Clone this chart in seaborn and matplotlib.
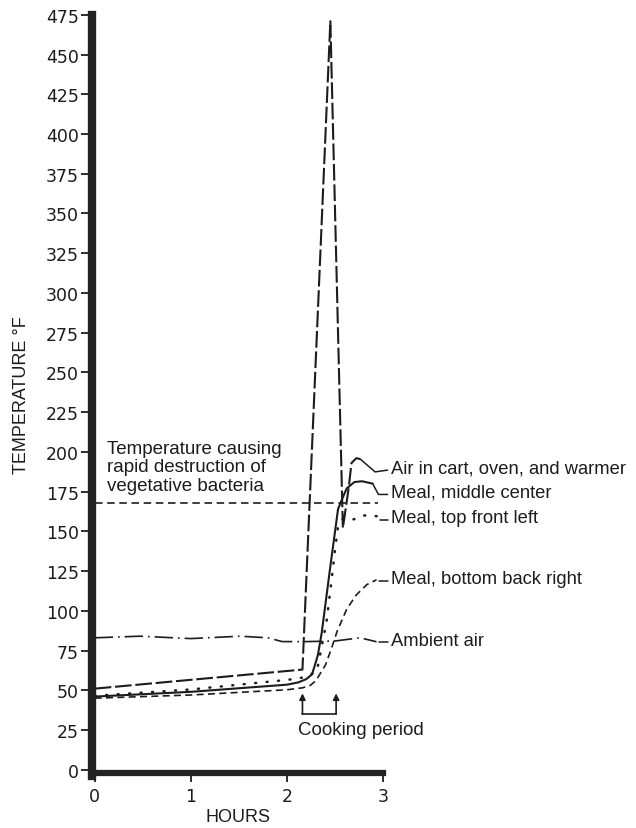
import matplotlib
matplotlib.use("Agg")
import matplotlib.pyplot as plt
import pandas as pd
import seaborn as sns

# Temperature records (hours after loading, degrees F)
air_hours = [0.0, 2.16, 2.45, 2.58, 2.64, 2.67, 2.72, 2.76]
air_temp = [51, 63, 471, 152, 177, 193, 196, 195.5]

middle_hours = [0.0, 1.0, 2.0, 2.12, 2.2, 2.26, 2.32, 2.36, 2.45, 2.53, 2.57, 2.62, 2.7, 2.78, 2.89]
middle_temp = [46, 49, 53.5, 55, 57, 60, 72, 86, 128, 164, 170, 177, 181, 181.5, 180]

top_hours = [0.0, 1.0, 2.0, 2.12, 2.2, 2.31, 2.41, 2.46, 2.5, 2.53, 2.58, 2.67, 2.79, 2.94]
top_temp = [46.5, 50.5, 56.5, 57.5, 58.5, 62, 93, 118, 139, 153, 158, 157, 160, 159.5]

bottom_hours = [0.0, 1.0, 2.0, 2.16, 2.24, 2.3, 2.4, 2.46, 2.52, 2.62, 2.72, 2.83, 2.93]
bottom_temp = [45, 47, 50.3, 51.5, 53, 56, 66, 76, 87, 101, 110, 116.5, 119.5]

ambient_hours = [0.0, 0.47, 1.0, 1.51, 1.8, 1.95, 2.2, 2.5, 2.76, 2.93]
ambient_temp = [83, 84, 82.5, 84, 83, 80.6, 80.6, 81, 83, 80.5]

threshold_temp = 168
threshold_hours = [0.0, 2.95]

series_names = [
    "Air in cart, oven, and warmer",
    "Meal, middle center",
    "Meal, top front left",
    "Meal, bottom back right",
    "Ambient air",
]
label_temps = [190, 174.7, 158.4, 120, 81.2]

cooking_start, cooking_end = 2.16, 2.51

ink = "#1c1c1c"

sns.set_theme(style="white")
plt.rcParams["font.family"] = ["Liberation Sans", "DejaVu Sans"]

fig = plt.figure(figsize=(6.36, 8.29), dpi=100)
ax = fig.add_axes([0.1451, 0.0665, 0.4575, 0.9144])

styles = [
    dict(linestyle=(0, (8, 1.8)), linewidth=1.5),
    dict(linestyle="-", linewidth=1.5),
    dict(linestyle=(0, (0.4, 4.2)), linewidth=1.8, dash_capstyle="round"),
    dict(linestyle=(0, (4.2, 2.6)), linewidth=1.2),
    dict(linestyle=(0, (11, 3, 1, 3)), linewidth=1.2),
]
xs = [air_hours, middle_hours, top_hours, bottom_hours, ambient_hours]
ys = [air_temp, middle_temp, top_temp, bottom_temp, ambient_temp]

for name, x, y, st in zip(series_names, xs, ys, styles):
    df = pd.DataFrame({"Hours": x, "Temperature": y})
    sns.lineplot(data=df, x="Hours", y="Temperature", sort=False, estimator=None,
                 ax=ax, color=ink, clip_on=False, **st)

# destruction threshold
thr = pd.DataFrame({"Hours": threshold_hours, "Temperature": [threshold_temp] * 2})
sns.lineplot(data=thr, x="Hours", y="Temperature", ax=ax, color=ink,
             linestyle=(0, (4.5, 2.8)), linewidth=1.2, clip_on=False)

# leader lines and series labels on the right
label_x = 3.085
leader_end = 3.045
for i, (name, x, y, ly) in enumerate(zip(series_names, xs, ys, label_temps)):
    if i == 0:
        ax.plot([x[-1], 2.915, leader_end], [y[-1], 187.4, ly - 1.5],
                color=ink, lw=1.1, clip_on=False)
    elif i == 1:
        ax.plot([x[-1], 2.95, leader_end], [y[-1], ly - 1.5, ly - 1.5],
                color=ink, lw=1.1, clip_on=False)
    else:
        ax.plot([x[-1] + 0.03, leader_end], [ly - 1, ly - 1],
                color=ink, lw=1.1, clip_on=False)
    ax.text(label_x, ly, name, ha="left", va="center", fontsize=13.2, color=ink,
            clip_on=False)

ax.text(0.125, 190.5, "Temperature causing\nrapid destruction of\nvegetative bacteria",
        ha="left", va="center", fontsize=13.5, color=ink, linespacing=1.15)

# cooking period bracket
bracket_y = 35
for cx in (cooking_start, cooking_end):
    ax.annotate("", xy=(cx, 48), xytext=(cx, bracket_y),
                arrowprops=dict(arrowstyle="-|>", color=ink, lw=1.2,
                                mutation_scale=9, shrinkA=0, shrinkB=0))
ax.plot([cooking_start, cooking_end], [bracket_y, bracket_y], color=ink, lw=1.2)
ax.text(2.115, 25.6, "Cooking period", ha="left", va="center", fontsize=13.5, color=ink)

ax.set_xlim(-0.025, 3.0)
ax.set_ylim(-2, 475)
ax.set_xticks([0, 1, 2, 3])
ax.set_yticks(list(range(0, 476, 25)))

for side in ("top", "right"):
    ax.spines[side].set_visible(False)
ax.spines["left"].set_linewidth(6)
ax.spines["left"].set_color("#222222")
ax.spines["left"].set_bounds(-4.2, 475)
ax.spines["bottom"].set_linewidth(4.5)
ax.spines["bottom"].set_color("#222222")

ax.tick_params(axis="y", direction="out", length=8.1, width=1.3, pad=1.5,
               colors=ink, labelsize=12.5, left=True)
ax.tick_params(axis="x", direction="out", length=6.8, width=1.3, pad=3.6,
               colors=ink, labelsize=12.5, bottom=True)
for lab in ax.get_xticklabels() + ax.get_yticklabels():
    lab.set_family("DejaVu Sans")

ax.set_xlabel("HOURS", fontsize=13, color=ink)
ax.set_ylabel("TEMPERATURE °F", fontsize=13, color=ink)
ax.xaxis.label.set_va("center")
ax.yaxis.label.set_va("center")
ax.xaxis.set_label_coords(0.5, -0.0582)
ax.yaxis.set_label_coords(-0.2416, 0.5)
ax.grid(False)

fig.savefig("out.png", dpi=100, facecolor="white")
